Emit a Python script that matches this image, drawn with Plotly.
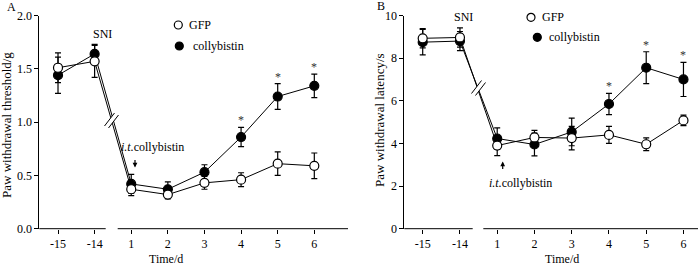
import plotly.graph_objects as go

W, H = 700, 267
FONT = "Liberation Serif"

tick_labels = ["-15", "-14", "1", "2", "3", "4", "5", "6"]
xi = list(range(len(tick_labels)))

# Panel A: paw withdrawal threshold (g)
a_gfp = [1.51, 1.57, 0.37, 0.32, 0.43, 0.46, 0.61, 0.59]
a_gfp_err = [0.14, 0.15, 0.06, 0.04, 0.06, 0.065, 0.11, 0.12]
a_col = [1.44, 1.64, 0.42, 0.37, 0.53, 0.86, 1.24, 1.34]
a_col_err = [0.17, 0.09, 0.09, 0.07, 0.07, 0.09, 0.12, 0.11]

# Panel B: paw withdrawal latency (s)
b_gfp = [8.93, 8.97, 3.90, 4.28, 4.25, 4.40, 3.96, 5.08]
b_gfp_err = [0.45, 0.45, 0.47, 0.33, 0.55, 0.40, 0.30, 0.25]
b_col = [8.75, 8.80, 4.23, 3.95, 4.54, 5.85, 7.55, 7.00]
b_col_err = [0.60, 0.45, 0.50, 0.53, 0.65, 0.50, 0.75, 0.80]

sig_idx = [5, 6, 7]


def px(x):
    return x / W


def py(y):
    return 1 - y / H


fig = go.Figure()


def add_series(y, err, filled, xa, ya):
    fig.add_trace(go.Scatter(
        x=xi, y=y, mode="lines+markers",
        xaxis=xa, yaxis=ya,
        line=dict(color="black", width=1),
        marker=dict(size=9, color="black" if filled else "white",
                    line=dict(color="black", width=1.2)),
        error_y=dict(type="data", array=err, visible=True,
                     color="black", thickness=1.2, width=3),
        showlegend=False, hoverinfo="skip"))


add_series(a_col, a_col_err, True, "x", "y")
add_series(a_gfp, a_gfp_err, False, "x", "y")
add_series(b_col, b_col_err, True, "x2", "y2")
add_series(b_gfp, b_gfp_err, False, "x2", "y2")

ydom = [py(228.7), py(15.5)]
axfont = dict(family=FONT, size=12, color="black")

fig.update_layout(
    width=W, height=H, margin=dict(l=0, r=0, t=0, b=0, autoexpand=False),
    autosize=False,
    paper_bgcolor="white", plot_bgcolor="white",
    font=axfont,
    xaxis=dict(domain=[px(39.3), px(348)], range=[-0.511, 7.92],
               tickvals=xi, ticktext=tick_labels, ticks="outside",
               ticklen=4, tickcolor="black", showline=False,
               showgrid=False, zeroline=False, tickfont=axfont,
               anchor="y"),
    yaxis=dict(domain=ydom, range=[0, 2.0], tickvals=[0, 0.5, 1.0, 1.5, 2.0],
               ticktext=["0.0", "0.5", "1.0", "1.5", "2.0"],
               ticks="outside", ticklen=4, tickcolor="black",
               showline=True, linecolor="black", linewidth=1,
               showgrid=False, zeroline=False, tickfont=axfont,
               anchor="x"),
    xaxis2=dict(domain=[px(404.3), px(698)], range=[-0.494, 7.39],
                tickvals=xi, ticktext=tick_labels, ticks="outside",
                ticklen=4, tickcolor="black", showline=False,
                showgrid=False, zeroline=False, tickfont=axfont,
                anchor="y2"),
    yaxis2=dict(domain=ydom, range=[0, 10], tickvals=[0, 2, 4, 6, 8, 10],
                ticks="outside", ticklen=4, tickcolor="black",
                showline=True, linecolor="black", linewidth=1,
                showgrid=False, zeroline=False, tickfont=axfont,
                anchor="x2"),
)

shapes = []
# broken x-axis lines
yaxis_px = 228.7
for x0, x1 in [(39.3, 105.7), (117.7, 348), (404.3, 472.7), (483.3, 698)]:
    shapes.append(dict(type="line", xref="paper", yref="paper",
                       x0=px(x0), x1=px(x1), y0=py(yaxis_px), y1=py(yaxis_px),
                       line=dict(color="black", width=1)))


def add_break(c1, c2, hx=5, hy=6.5):
    # white gap between two slashes, then the slashes
    path = (f"M {px(c1[0]-hx)},{py(c1[1]+hy)} L {px(c1[0]+hx)},{py(c1[1]-hy)} "
            f"L {px(c2[0]+hx)},{py(c2[1]-hy)} L {px(c2[0]-hx)},{py(c2[1]+hy)} Z")
    shapes.append(dict(type="path", xref="paper", yref="paper", path=path,
                       fillcolor="white", line=dict(width=0), layer="above"))
    for c in (c1, c2):
        shapes.append(dict(type="line", xref="paper", yref="paper",
                           x0=px(c[0]-hx), y0=py(c[1]+hy),
                           x1=px(c[0]+hx), y1=py(c[1]-hy),
                           line=dict(color="black", width=1), layer="above"))


add_break((109.5, 119.5), (113.5, 121.5))
add_break((476.5, 87.0), (480.5, 89.0))


def circle(cx, cy, filled, r=4):
    shapes.append(dict(type="circle", xref="paper", yref="paper",
                       x0=px(cx - r), x1=px(cx + r), y0=py(cy + r), y1=py(cy - r),
                       fillcolor="black" if filled else "white",
                       line=dict(color="black", width=1.2)))


circle(178.3, 25, False)
circle(179.3, 46, True)
circle(531, 17.3, False)
circle(537.3, 37.3, True)

fig.update_layout(shapes=shapes)

ann = []


def text(x, y, s, xanchor="center", size=12, angle=0):
    ann.append(dict(xref="paper", yref="paper", x=px(x), y=py(y), text=s,
                    showarrow=False, xanchor=xanchor, yanchor="middle",
                    textangle=angle,
                    font=dict(family=FONT, size=size, color="black")))


# legends
text(186.7, 25, "GFP", "left")
text(190.7, 46, "collybistin", "left")
text(540, 17.3, "GFP", "left")
text(546.7, 37.3, "collybistin", "left")

# panel labels
text(11, 7, "A")
text(381, 5.5, "B")

# axis titles
text(166, 259, "Time/d")
text(561.7, 259, "Time/d")
text(6, 125, "Paw withdrawal threshold/g", angle=-90, size=13)
text(379, 120, "Paw withdrawal latency/s", angle=-90, size=13)

# SNI
text(102, 34, "SNI")
text(463, 17.3, "SNI")

# i.t. collybistin
text(152, 146.7, "<i>i.t.</i>collybistin")
text(520, 182.7, "<i>i.t.</i>collybistin")

# arrows
ann.append(dict(xref="paper", yref="paper", x=px(135), y=py(167.5), ax=0, ay=-9,
                text="", showarrow=True, arrowhead=2, arrowsize=0.8,
                arrowwidth=1.2, arrowcolor="black"))
ann.append(dict(xref="paper", yref="paper", x=px(502.7), y=py(161.5), ax=0, ay=9,
                text="", showarrow=True, arrowhead=2, arrowsize=0.8,
                arrowwidth=1.2, arrowcolor="black"))

# significance asterisks
for i in sig_idx:
    ann.append(dict(xref="x", yref="y", x=xi[i], y=a_col[i] + a_col_err[i],
                    text="*", showarrow=False, yanchor="bottom", yshift=-2,
                    font=dict(family=FONT, size=12, color="#333333")))
    ann.append(dict(xref="x2", yref="y2", x=xi[i], y=b_col[i] + b_col_err[i],
                    text="*", showarrow=False, yanchor="bottom", yshift=-2,
                    font=dict(family=FONT, size=12, color="#333333")))

fig.update_layout(annotations=ann)

fig.write_html(
    "out.html",
    config={"displayModeBar": False, "staticPlot": True},
    post_script="document.body.style.margin='0';document.body.style.overflow='hidden';",
)
